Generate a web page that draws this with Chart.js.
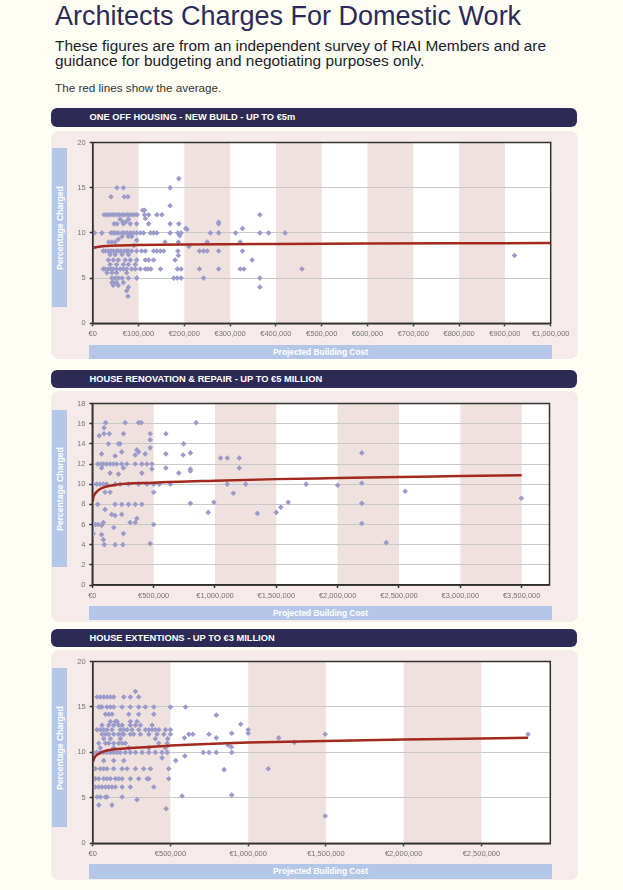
<!DOCTYPE html>
<html>
<head>
<meta charset="utf-8">
<script src="https://cdn.jsdelivr.net/npm/chart.js@4.4.0/dist/chart.umd.min.js"></script>
<style>
  html, body { margin:0; padding:0; }
  body { width:623px; height:890px; overflow:hidden; background:#fefef4; position:relative; font-family:"Liberation Sans", Arial, sans-serif; }
  .abs { position:absolute; }
  #title { left:55px; top:0.5px; font-size:27px; line-height:30px; color:#2c2a58; white-space:nowrap; }
  #sub { left:55px; top:39.3px; font-size:15.4px; line-height:14.5px; color:#1c1c2c; white-space:nowrap; }
  #note { left:55px; top:81px; font-size:11.7px; line-height:13px; color:#333; white-space:nowrap; }
  .bar { left:51px; width:526px; background:#2d2b55; border-radius:6px; color:#fff; font-weight:bold; font-size:9.3px; box-sizing:border-box; padding-left:38.5px; white-space:nowrap; }
  .panel { left:51px; width:527px; background:#f6eaea; border-radius:8px; }
  .ybox { left:52px; width:15px; background:#b5c7e8; }
  .ybox span { position:absolute; left:50%; top:50%; transform:translate(-50%,-50%) rotate(-90deg); color:#fff; font-weight:bold; font-size:8.6px; white-space:nowrap; }
  .xbox { left:89px; width:463px; background:#b5c7e8; color:#fff; font-weight:bold; font-size:8.4px; text-align:center; white-space:nowrap; }
  canvas { position:absolute; }
</style>
</head>
<body>
<div id="title" class="abs">Architects Charges For Domestic Work</div>
<div id="sub" class="abs">These figures are from an independent survey of RIAI Members and are<br>guidance for budgeting and negotiating purposes only.</div>
<div id="note" class="abs">The red lines show the average.</div>

<div class="abs bar" style="top:108px;height:19px;line-height:19px;">ONE OFF HOUSING - NEW BUILD - UP TO €5m</div>
<div class="abs panel" style="top:131px;height:228px;"></div>
<div class="abs ybox" style="top:148px;height:159px;"><span>Percentage Charged</span></div>
<div class="abs xbox" style="top:345px;height:14px;line-height:14px;">Projected Building Cost</div>

<div class="abs bar" style="top:370px;height:18px;line-height:18px;">HOUSE RENOVATION &amp; REPAIR - UP TO €5 MILLION</div>
<div class="abs panel" style="top:391px;height:231px;"></div>
<div class="abs ybox" style="top:410px;height:157px;"><span>Percentage Charged</span></div>
<div class="abs xbox" style="top:605.5px;height:14.5px;line-height:14.5px;">Projected Building Cost</div>

<div class="abs bar" style="top:628.5px;height:18px;line-height:18px;">HOUSE EXTENTIONS - UP TO €3 MILLION</div>
<div class="abs panel" style="top:650px;height:230px;"></div>
<div class="abs ybox" style="top:668px;height:159px;"><span>Percentage Charged</span></div>
<div class="abs xbox" style="top:864.3px;height:14.7px;line-height:14.7px;">Projected Building Cost</div>

<canvas id="c1"></canvas>
<canvas id="c2"></canvas>
<canvas id="c3"></canvas>

<script>
// ---- DATA: [projected building cost in € thousands, percentage charged] ----
const newBuildPoints = [
[188,16],
[53,15],[67,15],[169,15],
[40,14],[69,14],[77,14],
[169,13],
[113,12.5],[109,12.5],
[25,12],[31,12],[36,12],[42,12],[47,12],[53,12],[58,12],[64,12],[69,12],[75,12],[80,12],[85,12],[91,12],[97,12],[113,12],[122,12],[140,12],[151,12],[365,12],
[60,11.5],[78,11.5],[115,11.6],
[66,11.2],[72,11.2],[275,11.2],
[47,11],[53,11],[67,11],[82,11],[96,11],[122,11],[169,11],[188,11],[275,11],
[203,10.5],[206,10.4],[327,10.5],
[4,10],[20,10],[40,10],[45,10],[50,10],[56,10],[64,10],[69,10],[75,10],[82,10],[89,10],[96,10],[104,10],[111,10],[126,10],[133,10],[140,10],[169,10],[186,10],[193,10],[257,10],[275,10],[312,10],[365,10],[384,10],[420,10],
[64,9.6],[78,9.6],[85,9.6],[190,9.7],
[56,9.3],[96,9.2],
[35,9],[42,9],[49,9],[158,9],[250,9],[322,9],[187,9],
[210,8.5],[90,8.6],
[23,8],[28,8],[34,8],[40,8],[45,8],[52,8],[56,8],[62,8],[69,8],[74,8],[78,8],[85,8],[96,8],[107,8],[115,8],[133,8],[140,8],[148,8],[155,8],[186,8],[233,8],[242,8],[250,8],[275,8],[327,8],
[38,7.6],[49,7.6],[64,7.6],[78,7.6],[187,7.5],[921,7.5],
[34,7],[45,7],[56,7],[71,7],[82,7],[96,7],[115,7],[122,7],[133,7],[180,7],[348,7],
[38,6.5],[52,6.5],[67,6.5],[78,6.5],[93,6.5],
[23,6],[27,6],[34,6],[40,6],[45,6],[52,6],[60,6],[67,6],[74,6],[85,6],[93,6],[104,6],[115,6],[120,6],[127,6],[148,6],[185,6],[193,6],[233,6],[275,6],[322,6],[330,6],[457,6],
[31,5.6],[42,5.6],[52,5.6],[74,5.6],
[42,5],[49,5],[56,5],[64,5],[78,5],[96,5],[177,5],[185,5],[193,5],[242,5],[365,5],
[42,4.5],[45,4.5],[52,4.5],[67,4.5],
[45,4.2],[56,4.2],[78,4],[365,4],
[74,3.6],[77,3]
];
const newBuildTrendCost = [2, 10, 30, 60, 100, 200, 400, 600, 800, 1000];
const newBuildTrendPct  = [8.35, 8.45, 8.55, 8.61, 8.66, 8.72, 8.78, 8.82, 8.85, 8.87];
const newBuildXTicks = [0, 100, 200, 300, 400, 500, 600, 700, 800, 900, 1000];
const newBuildYTicks = [0, 5, 10, 15, 20];

const renovationPoints = [
[109,16.1],[268,16.1],[377,16.1],[399,16.1],[846,16.1],
[96,15.6],
[57,14.8],[96,15],[139,15],[254,15],[472,15],[600,15],
[472,14.4],
[131,14],[213,14],[227,14],[745,14],
[472,13.6],[363,13.4],
[76,13],[186,12.8],[240,13.2],[350,12.9],[377,13.2],[431,13],[600,13],[740,12.9],[800,13.1],[2197,13.1],
[1046,12.6],[1100,12.6],[1198,12.6],
[44,12],[71,12],[90,12],[117,12],[145,12],[172,12],[199,12],[240,12],[281,12],[350,12],[404,12],[445,12],[486,12],
[76,11.6],[254,11.6],[486,11.5],[600,11.6],[800,11.5],[800,11.3],[1198,11.6],
[145,11.1],[404,11.1],[705,11.1],[213,11],
[8,10],[36,10],[63,10],[90,10],[117,10],[186,10],[227,10],[295,10],[377,10],[445,10],[500,10],[546,10],[636,10],[1100,10],[1250,10],[1743,10],[2197,10.1],[2000,9.9],
[104,9.2],[145,9.2],[500,9.2],[1150,9.1],[2550,9.3],
[44,8],[186,8],[240,8],[295,8],[350,8],[404,8],[800,8.1],[991,8.2],[2197,8.1],[1597,8.2],[3497,8.6],
[104,7.5],[158,7],[186,6.9],[240,7],[945,7.2],[1346,7.1],[1499,7.2],[1537,7.7],
[363,6.6],
[8,6],[27,6],[49,6],[76,5.9],[90,6.2],[500,6],[2197,6.1],[308,6.2],[350,6.2],[175,5.7],
[8,5.1],[254,5.1],[76,5],[90,4.5],
[98,4],[186,4],[249,4],[472,4.1],[2396,4.2]
];
const renovationTrendCost = [3, 10, 25, 60, 170, 500, 1000, 1500, 2000, 2500, 3000, 3500];
const renovationTrendPct  = [8.3, 8.75, 9.1, 9.5, 9.9, 10.15, 10.35, 10.5, 10.6, 10.7, 10.8, 10.88];
const renovationXTicks = [0, 500, 1000, 1500, 2000, 2500, 3000, 3500];
const renovationYTicks = [0, 2, 4, 6, 8, 10, 12, 14, 16, 18];

const extensionPoints = [
[28,16.1],[49,16.1],[71,16.1],[92,16.1],[114,16.1],[135,16.1],[200,16.1],[242,16.1],[275,16.7],[296,16.1],
[39,15],[49,15],[60,15],[92,15],[114,15],[135,15],[189,15],[242,15],[296,15],[339,15],[393,15],[500,15],[597,15],
[82,14.2],[103,14.2],[124,14.2],[232,14.2],[296,14.2],[393,14.2],[795,14.1],
[114,13.4],[146,13.4],[157,13.4],[242,13.4],[285,13.4],
[60,13],[103,13],[135,13],[167,13],[189,13],[242,13],[275,13],[307,13],[382,13],[952,13.1],
[28,12.5],[49,12.5],[71,12.5],[92,12.5],[124,12.5],[178,12.5],[200,12.5],[221,12.5],[253,12.5],[296,12.5],[339,12.5],[361,12.5],[382,12.5],[403,12.5],[425,12.5],[468,12.5],[500,12.5],[1000,12.5],
[60,12],[82,12],[103,12],[135,12],[167,12],[189,12],[200,12],[242,12],[264,12],[307,12],[361,12],[414,12],[457,12],[500,12],[618,12],[644,12],[748,12],[894,12.1],[1000,12.1],[1495,12],[2800,12],
[71,11.5],[114,11.5],[178,11.5],[403,11.5],[482,11.5],[590,11.6],[795,11.6],[1196,11.6],
[39,11],[82,11],[103,11],[135,11],[167,11],[189,11],[210,11],[425,11],[479,11],[1297,11.1],
[49,10.5],[135,10.5],[232,10.5],[361,10.5],[468,10.5],[871,10.8],[892,10.6],
[6,10],[28,10],[49,10],[71,10],[92,10],[114,10],[135,10],[157,10],[178,10],[210,10],[242,10],[275,10],[318,10],[361,10],[403,10],[446,10],[479,10],[711,10],[748,10],[795,10],[894,10],
[446,9.4],[593,9.6],
[71,9.1],[135,9.1],[200,9.1],[534,9.1],
[17,8.2],[49,8.2],[71,8.2],[92,8.2],[135,8.2],[189,8.2],[221,8.2],[275,8.2],[328,8.2],[371,8.2],[489,8.2],[845,8.1],[1129,8.2],
[17,7.1],[39,7.1],[71,7.1],[92,7.1],[114,7.1],[146,7.1],[167,7.1],[189,7.1],[242,7.1],[296,7.1],[350,7.1],[361,7.1],[489,7.1],
[17,6.2],[39,6.2],[60,6.2],[82,6.2],[103,6.2],[124,6.2],[146,6.2],[189,6.2],[242,6.2],[393,6.2],
[28,5.1],[49,5.1],[82,5.1],[92,5.1],[189,5.1],[285,4.8],[575,5.2],[894,5.3],
[39,4.2],[124,4.2],[472,3.8],[1495,3]
];
const extensionTrendCost = [3, 10, 40, 90, 220, 500, 1000, 1500, 2000, 2500, 2800];
const extensionTrendPct  = [9.0, 9.4, 9.85, 10.2, 10.45, 10.75, 11.08, 11.25, 11.42, 11.52, 11.6];
const extensionXTicks = [0, 500, 1000, 1500, 2000, 2500];
const extensionYTicks = [0, 5, 10, 15, 20];

// axis ranges (€ thousands / %)
const newBuildAxis   = { xMax:1000, yMax:20, xTicks:newBuildXTicks, yTicks:newBuildYTicks };
const renovationAxis = { xMax:3727, yMax:18, xTicks:renovationXTicks, yTicks:renovationYTicks };
const extensionAxis  = { xMax:2943, yMax:20, xTicks:extensionXTicks, yTicks:extensionYTicks };

// ---- rendering ----
const bandPlugin = {
  id:'bands',
  beforeDraw(chart){
    const {ctx, chartArea:a, scales:{x}} = chart;
    ctx.save();
    ctx.fillStyle = '#ffffff';
    ctx.fillRect(a.left, a.top, a.right-a.left, a.bottom-a.top);
    ctx.fillStyle = '#efe1dd';
    const t = x.ticks;
    for (let i = 0; i + 1 < t.length; i += 2) {
      const p0 = x.getPixelForValue(t[i].value), p1 = x.getPixelForValue(t[i+1].value);
      ctx.fillRect(p0, a.top, p1-p0, a.bottom-a.top);
    }
    ctx.restore();
  },
  afterDraw(chart){
    const {ctx, chartArea:a} = chart;
    ctx.save();
    ctx.strokeStyle = '#333';
    ctx.lineWidth = 1.5;
    ctx.strokeRect(a.left, a.top, a.right-a.left, a.bottom-a.top);
    ctx.restore();
  }
};

function fmtEuro(v){ return '€' + Math.round(v*1000).toLocaleString('en-US'); }

function makeChart(id, geom, axis, points, trendCost, trendPct){
  const canvasLeft = 60;
  const canvasTop = Math.floor(geom.T) - 7;
  const width = Math.ceil(geom.R) + 28 - canvasLeft;
  const height = Math.ceil(geom.B) + 20 - canvasTop;
  const cv = document.getElementById(id);
  cv.width = width; cv.height = height;
  cv.style.left = canvasLeft + 'px'; cv.style.top = canvasTop + 'px';
  cv.style.width = width + 'px'; cv.style.height = height + 'px';
  const yW = geom.L - canvasLeft;
  const xH = canvasTop + height - geom.B;
  const padTop = geom.T - canvasTop;
  const padRight = canvasLeft + width - geom.R;
  new Chart(cv, {
    type:'scatter',
    data:{
      datasets:[
        { data: points.map(p => ({x:p[0], y:p[1]})), pointStyle:'rectRot', pointRadius:2.8,
          backgroundColor:'#9a9bcb', borderWidth:0, order:2 },
        { type:'line', data: trendCost.map((c,i) => ({x:c, y:trendPct[i]})), borderColor:'#a3281d',
          borderWidth:2.5, pointRadius:0, fill:false, cubicInterpolationMode:'monotone', order:1 }
      ]
    },
    options:{
      responsive:false, animation:false, devicePixelRatio:1,
      layout:{ padding:{ top:padTop, right:padRight, left:0, bottom:0 } },
      plugins:{ legend:{display:false}, tooltip:{enabled:false} },
      scales:{
        x:{ type:'linear', min:0, max:axis.xMax,
          afterBuildTicks(s){ s.ticks = axis.xTicks.map(v => ({value:v})); },
          afterFit(s){ s.height = xH; },
          ticks:{ autoSkip:false, maxRotation:0, padding:3,
            color:'#777', font:{ family:'Liberation Sans, Arial', size:7.5 }, callback:v => fmtEuro(v) },
          grid:{ drawOnChartArea:false, drawTicks:true, tickLength:3, tickColor:'#333', tickWidth:1.5 },
          border:{ color:'#222', width:1.5 } },
        y:{ min:0, max:axis.yMax,
          afterBuildTicks(s){ s.ticks = axis.yTicks.map(v => ({value:v})); },
          afterFit(s){ s.width = yW; },
          ticks:{ padding:4, color:'#777', font:{ family:'Liberation Sans, Arial', size:7.5 } },
          grid:{ color:'#c9c9c9', lineWidth:1, drawTicks:true, tickLength:3, tickColor:'#333', tickWidth:1.5 },
          border:{ color:'#222', width:1.5 } }
      }
    },
    plugins:[bandPlugin]
  });
}

makeChart('c1', {L:92.7, R:550.7, T:141.7, B:323.3}, newBuildAxis, newBuildPoints, newBuildTrendCost, newBuildTrendPct);
makeChart('c2', {L:92.3, R:549.5, T:402.3, B:585}, renovationAxis, renovationPoints, renovationTrendCost, renovationTrendPct);
makeChart('c3', {L:92.7, R:550.3, T:660, B:843.3}, extensionAxis, extensionPoints, extensionTrendCost, extensionTrendPct);
</script>
</body>
</html>
